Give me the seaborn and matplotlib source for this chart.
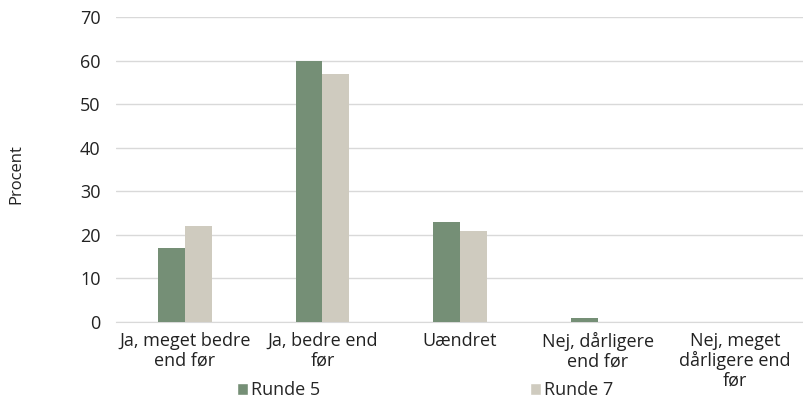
import pandas as pd
import matplotlib.pyplot as plt
import seaborn as sns
from matplotlib.patches import Patch

categories = ["Ja, meget bedre\nend før", "Ja, bedre end\nfør", "Uændret",
              "Nej, dårligere\nend før", "Nej, meget\ndårligere end\nfør"]
runde5 = [17, 60, 23, 1, 0]
runde7 = [22, 57, 21, 0, 0]
series = ["Runde 5", "Runde 7"]
colors = ["#758f76", "#cfcbbf"]

df = pd.DataFrame({
    "kategori": categories * 2,
    "procent": runde5 + runde7,
    "serie": [series[0]] * len(categories) + [series[1]] * len(categories),
})

sns.set_style("white")
plt.rcParams["font.family"] = ["Open Sans", "DejaVu Sans"]
fs = 13

fig = plt.figure(figsize=(8.04, 3.99), dpi=100)
ax = fig.add_axes([0.1443, 0.193, 0.8557, 0.764])

sns.barplot(data=df, x="kategori", y="procent", hue="serie", palette=colors,
            width=0.39, gap=0, saturation=1, linewidth=0, ax=ax, legend=False, zorder=3)

ax.set_ylim(0, 70)
ax.set_yticks(range(0, 71, 10))
ax.yaxis.grid(True, color="#d9d9d9", lw=1, zorder=0)
ax.set_axisbelow(True)
for s in ["top", "right", "left"]:
    ax.spines[s].set_visible(False)
ax.spines["bottom"].set_color("#d9d9d9")
ax.tick_params(axis="both", length=0, labelsize=fs, colors="#222222")
ax.tick_params(axis="y", pad=11)
ax.tick_params(axis="x", pad=7)
ax.set_xlabel("")
ax.set_ylabel("")
for lab in ax.get_xticklabels():
    lab.set_linespacing(1.1)

fig.text(0.02, 0.565, "Procent", rotation=90, ha="center", va="center",
         fontsize=fs - 1, color="#222222")

handles = [Patch(facecolor=c, label=s) for c, s in zip(colors, series)]
fig.legend(handles=handles, loc="center", bbox_to_anchor=(0.529, 0.022), ncol=2,
           frameon=False, fontsize=fs, handlelength=0.6, handleheight=0.6,
           handletextpad=0.2, columnspacing=11.6, borderpad=0)

fig.savefig("out.png", dpi=100)
